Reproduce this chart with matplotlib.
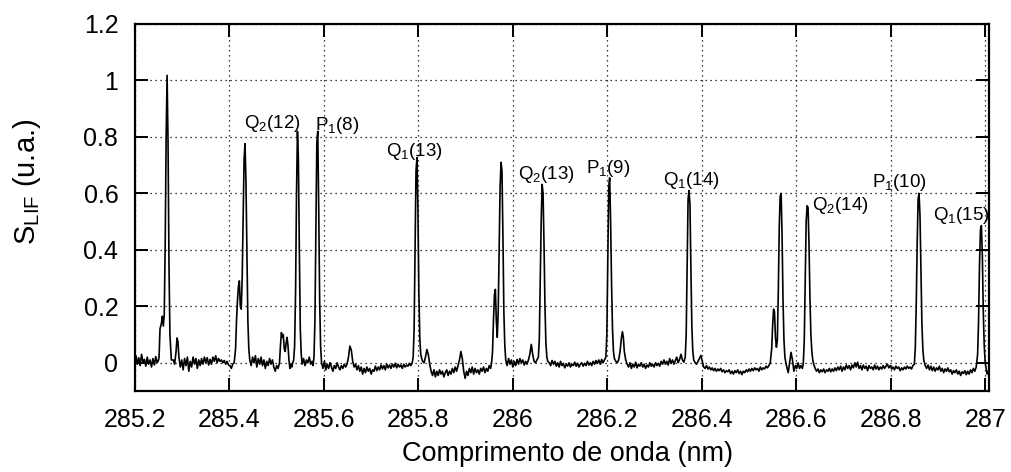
import matplotlib
matplotlib.use("Agg")
import matplotlib.pyplot as plt
import numpy as np

plt.rcParams["font.family"] = ["Liberation Sans", "DejaVu Sans"]
plt.rcParams["mathtext.default"] = "regular"

# LIF excitation spectrum: wavelength (nm) and signal (arbitrary units)
wavelength_nm = [
    285.200, 285.202, 285.205, 285.208, 285.211, 285.214, 285.217, 285.220, 285.223, 285.226,
    285.229, 285.232, 285.235, 285.238, 285.241, 285.244, 285.247, 285.250,
    285.251, 285.253, 285.256, 285.258, 285.260, 285.262, 285.264, 285.266, 285.268, 285.270,
    285.272, 285.274, 285.277, 285.281, 285.284, 285.287, 285.289, 285.291, 285.293,
    285.296, 285.299, 285.302, 285.305, 285.308, 285.311, 285.314, 285.317, 285.320, 285.323,
    285.326, 285.329, 285.332, 285.335, 285.338, 285.341, 285.344, 285.347, 285.350, 285.353,
    285.356, 285.359, 285.362, 285.365, 285.368, 285.371, 285.374, 285.377, 285.380, 285.383,
    285.386, 285.389, 285.392, 285.395, 285.398, 285.401, 285.404, 285.407, 285.410,
    285.413, 285.415, 285.417, 285.419, 285.421, 285.423, 285.425, 285.427, 285.429, 285.431,
    285.433, 285.435, 285.437, 285.439, 285.441, 285.443,
    285.446, 285.449, 285.452, 285.455, 285.458, 285.461, 285.464, 285.467, 285.470, 285.473,
    285.476, 285.479, 285.482, 285.485, 285.488, 285.491, 285.494, 285.497, 285.500, 285.503,
    285.506, 285.508, 285.510, 285.512, 285.514, 285.516, 285.518, 285.520, 285.522, 285.524,
    285.526, 285.528, 285.530, 285.532, 285.534,
    285.536, 285.538, 285.540, 285.542, 285.544, 285.546, 285.548, 285.550, 285.552, 285.554,
    285.557, 285.560, 285.563, 285.566, 285.569, 285.572, 285.575, 285.577,
    285.579, 285.581, 285.583, 285.585, 285.587, 285.589, 285.591, 285.593, 285.595,
    285.598, 285.601, 285.604, 285.607, 285.610, 285.613, 285.616, 285.619, 285.622, 285.625,
    285.628, 285.631, 285.634, 285.637, 285.640, 285.643, 285.646, 285.649, 285.652, 285.655,
    285.658, 285.661, 285.664, 285.667, 285.670, 285.673, 285.676, 285.679, 285.682, 285.685,
    285.688, 285.691, 285.694, 285.697, 285.700, 285.703, 285.706, 285.709, 285.712, 285.715,
    285.718, 285.721, 285.724, 285.727, 285.730, 285.733, 285.736, 285.739, 285.742, 285.745,
    285.748, 285.751, 285.754, 285.757, 285.760, 285.763, 285.766, 285.769, 285.772, 285.775,
    285.778, 285.781, 285.784, 285.787,
    285.789, 285.791, 285.793, 285.795, 285.797, 285.799, 285.801, 285.803, 285.805, 285.807,
    285.809, 285.812, 285.815, 285.818, 285.821, 285.824, 285.827, 285.830, 285.833, 285.836,
    285.839, 285.842, 285.845, 285.848, 285.851, 285.854, 285.857, 285.860, 285.863, 285.866,
    285.869, 285.872, 285.875, 285.878, 285.881, 285.884, 285.887, 285.890, 285.893, 285.896,
    285.899, 285.902, 285.905, 285.908, 285.911, 285.914, 285.917, 285.920, 285.923, 285.926,
    285.929, 285.932, 285.935, 285.938, 285.941, 285.944, 285.947, 285.950, 285.953, 285.955,
    285.957, 285.959, 285.961, 285.963, 285.965, 285.967, 285.969, 285.971, 285.973, 285.975,
    285.977, 285.979, 285.981, 285.983, 285.985,
    285.988, 285.991, 285.994, 285.997, 286.000, 286.003, 286.006, 286.009, 286.012, 286.015,
    286.018, 286.021, 286.024, 286.027, 286.030, 286.033, 286.036, 286.039, 286.042, 286.045,
    286.048, 286.051, 286.054,
    286.056, 286.058, 286.060, 286.062, 286.064, 286.066, 286.068, 286.070, 286.072, 286.074,
    286.077, 286.080, 286.083, 286.086, 286.089, 286.092, 286.095, 286.098, 286.101, 286.104,
    286.107, 286.110, 286.113, 286.116, 286.119, 286.122, 286.125, 286.128, 286.131, 286.134,
    286.137, 286.140, 286.143, 286.146, 286.149, 286.152, 286.155, 286.158, 286.161, 286.164,
    286.167, 286.170, 286.173, 286.176, 286.179, 286.182, 286.185, 286.188, 286.191, 286.194,
    286.197,
    286.199, 286.201, 286.203, 286.205, 286.207, 286.209, 286.211, 286.213, 286.215, 286.218,
    286.221, 286.224, 286.227, 286.230, 286.232, 286.234, 286.236, 286.239, 286.242,
    286.245, 286.248, 286.251, 286.254, 286.257, 286.260, 286.263, 286.266, 286.269, 286.272,
    286.275, 286.278, 286.281, 286.284, 286.287, 286.290, 286.293, 286.296, 286.299, 286.302,
    286.305, 286.308, 286.311, 286.314, 286.317, 286.320, 286.323, 286.326, 286.329, 286.332,
    286.335, 286.338, 286.341, 286.344, 286.347, 286.350, 286.353, 286.356, 286.359, 286.362,
    286.365,
    286.367, 286.369, 286.371, 286.373, 286.375, 286.377, 286.379, 286.381, 286.383, 286.386,
    286.389, 286.392, 286.395, 286.398, 286.401, 286.404, 286.407, 286.410,
    286.413, 286.416, 286.419, 286.422, 286.425, 286.428, 286.431, 286.434, 286.437, 286.440,
    286.443, 286.446, 286.449, 286.452, 286.455, 286.458, 286.461, 286.464, 286.467, 286.470,
    286.473, 286.476, 286.479, 286.482, 286.485, 286.488, 286.491, 286.494, 286.497, 286.500,
    286.503, 286.506, 286.509, 286.512, 286.515, 286.518, 286.521, 286.524, 286.527, 286.530,
    286.533, 286.536, 286.539, 286.542, 286.545,
    286.548, 286.550, 286.552, 286.554, 286.556, 286.558, 286.560, 286.562, 286.564, 286.566,
    286.568, 286.570, 286.572, 286.574, 286.576, 286.578, 286.580, 286.583, 286.586, 286.589,
    286.592, 286.595, 286.598, 286.601, 286.604, 286.607, 286.610, 286.613, 286.615,
    286.617, 286.619, 286.621, 286.623, 286.625, 286.627, 286.629, 286.631, 286.633, 286.635,
    286.637,
    286.640, 286.643, 286.646, 286.649, 286.652, 286.655, 286.658, 286.661, 286.664, 286.667,
    286.670, 286.673, 286.676, 286.679, 286.682, 286.685, 286.688, 286.691, 286.694, 286.697,
    286.700, 286.703, 286.706, 286.709, 286.712, 286.715, 286.718, 286.721, 286.724, 286.727,
    286.730, 286.733, 286.736, 286.739, 286.742, 286.745, 286.748, 286.751, 286.754, 286.757,
    286.760, 286.763, 286.766, 286.769, 286.772, 286.775, 286.778, 286.781, 286.784, 286.787,
    286.790, 286.793, 286.796, 286.799, 286.802, 286.805, 286.808, 286.811, 286.814, 286.817,
    286.820, 286.823, 286.826, 286.829, 286.832, 286.835, 286.838, 286.841, 286.844, 286.847,
    286.850,
    286.852, 286.854, 286.856, 286.858, 286.860, 286.862, 286.864, 286.866, 286.868, 286.870,
    286.873,
    286.876, 286.879, 286.882, 286.885, 286.888, 286.891, 286.894, 286.897, 286.900, 286.903,
    286.906, 286.909, 286.912, 286.915, 286.918, 286.921, 286.924, 286.927, 286.930, 286.933,
    286.936, 286.939, 286.942, 286.945, 286.948, 286.951, 286.954, 286.957, 286.960, 286.963,
    286.966, 286.969, 286.972, 286.975, 286.978, 286.981,
    286.984, 286.986, 286.988, 286.990, 286.992, 286.994, 286.996, 286.998, 287.000, 287.002,
    287.004, 287.006, 287.008,
]

s_lif = [
    0.000, 0.025, -0.005, 0.018, -0.010, 0.030, 0.002, 0.012, -0.012, 0.020,
    -0.005, 0.010, -0.015, 0.015, -0.008, 0.022, 0.000, 0.010,
    0.020, 0.120, 0.140, 0.165, 0.130, 0.170, 0.420, 0.800, 1.018, 0.780,
    0.350, 0.100, 0.010, 0.010, -0.005, 0.040, 0.088, 0.075, 0.020,
    -0.015, 0.010, -0.025, 0.015, -0.010, 0.020, -0.030, 0.005, -0.015, 0.020,
    -0.005, 0.015, -0.020, 0.010, -0.010, 0.015, -0.005, 0.020, 0.000, 0.018,
    -0.008, 0.012, -0.005, 0.020, 0.005, 0.025, 0.000, 0.015, 0.005, 0.010,
    0.000, 0.008, -0.005, 0.005, -0.008, -0.010, -0.020, -0.005, 0.000,
    0.050, 0.150, 0.220, 0.270, 0.290, 0.200, 0.190, 0.300, 0.520, 0.720,
    0.776, 0.640, 0.380, 0.150, 0.050, 0.010,
    -0.010, 0.020, 0.000, 0.025, -0.015, 0.015, -0.005, 0.020, -0.010, 0.010,
    -0.020, 0.005, -0.010, 0.015, -0.005, 0.010, -0.015, -0.030, -0.010, -0.020,
    0.000, 0.060, 0.107, 0.090, 0.100, 0.050, 0.040, 0.070, 0.090, 0.060,
    0.010, -0.020, -0.005, -0.015, 0.000,
    0.010, 0.060, 0.250, 0.600, 0.820, 0.720, 0.400, 0.120, 0.030, -0.005,
    0.015, -0.010, 0.010, 0.000, 0.020, -0.005, 0.005, -0.010,
    0.020, 0.150, 0.450, 0.780, 0.820, 0.550, 0.220, 0.060, 0.000,
    -0.020, 0.005, -0.025, -0.005, -0.020, 0.000, -0.015, -0.030, -0.010, -0.020,
    0.000, -0.015, -0.025, -0.010, -0.020, -0.005, -0.015, -0.005, 0.020, 0.059,
    0.045, 0.005, -0.015, -0.005, -0.025, -0.010, -0.030, -0.015, -0.040, -0.020,
    -0.035, -0.015, -0.030, -0.020, -0.040, -0.025, -0.030, -0.012, -0.028, -0.015,
    -0.025, -0.008, -0.022, -0.010, -0.025, -0.005, -0.018, -0.008, -0.020, -0.005,
    -0.015, -0.002, -0.018, -0.005, -0.015, -0.008, -0.020, -0.005, -0.015, -0.008,
    -0.012, -0.002, -0.010, 0.000,
    0.020, 0.120, 0.400, 0.680, 0.727, 0.550, 0.250, 0.090, 0.030, 0.015,
    0.005, 0.000, 0.020, 0.047, 0.030, -0.005, -0.030, -0.045, -0.025, -0.050,
    -0.030, -0.045, -0.025, -0.040, -0.030, -0.050, -0.035, -0.025, -0.045, -0.030,
    -0.040, -0.020, -0.035, -0.015, -0.030, -0.010, 0.010, 0.040, 0.015, -0.030,
    -0.055, -0.030, -0.045, -0.020, -0.035, -0.015, -0.040, -0.020, -0.035, -0.025,
    -0.040, -0.020, -0.030, -0.015, -0.035, -0.020, -0.030, -0.010, -0.020, 0.000,
    0.040, 0.150, 0.240, 0.260, 0.150, 0.090, 0.180, 0.400, 0.620, 0.710,
    0.680, 0.450, 0.180, 0.060, 0.010,
    -0.010, 0.015, -0.005, 0.010, -0.015, 0.005, -0.010, 0.012, -0.005, 0.015,
    0.000, 0.010, -0.008, 0.005, -0.005, 0.010, 0.030, 0.065, 0.030, 0.005,
    0.000, 0.010, 0.020,
    0.080, 0.280, 0.500, 0.632, 0.600, 0.420, 0.200, 0.070, 0.020, 0.005,
    0.000, -0.010, 0.008, -0.005, 0.005, -0.012, 0.000, -0.015, 0.005, -0.010,
    -0.002, -0.018, -0.005, -0.012, 0.000, -0.015, -0.005, -0.010, 0.002, -0.012,
    -0.002, -0.015, -0.005, 0.000, -0.012, -0.002, -0.010, 0.005, -0.008, 0.000,
    -0.010, 0.005, -0.005, 0.008, -0.002, 0.010, -0.005, 0.012, 0.000, 0.010,
    0.020,
    0.100, 0.350, 0.620, 0.655, 0.500, 0.280, 0.120, 0.040, 0.015, 0.005,
    0.000, 0.010, 0.040, 0.090, 0.110, 0.090, 0.040, 0.010, -0.005,
    -0.015, 0.000, -0.020, -0.005, -0.015, 0.002, -0.018, -0.005, -0.012, 0.000,
    -0.015, -0.005, -0.020, -0.008, -0.015, 0.000, -0.012, -0.005, -0.015, 0.000,
    -0.010, -0.002, -0.012, 0.005, -0.005, 0.010, -0.005, 0.005, -0.008, 0.015,
    -0.002, 0.010, -0.005, 0.008, 0.020, 0.000, 0.012, 0.030, 0.010, 0.002,
    0.020,
    0.100, 0.350, 0.580, 0.610, 0.560, 0.330, 0.130, 0.040, 0.010, 0.000,
    -0.005, 0.005, 0.015, 0.026, 0.005, -0.015, -0.020, -0.010,
    -0.022, -0.015, -0.025, -0.018, -0.028, -0.020, -0.030, -0.022, -0.028, -0.020,
    -0.032, -0.025, -0.035, -0.028, -0.032, -0.025, -0.038, -0.030, -0.040, -0.028,
    -0.035, -0.025, -0.038, -0.030, -0.042, -0.030, -0.035, -0.025, -0.032, -0.022,
    -0.030, -0.020, -0.028, -0.018, -0.025, -0.020, -0.030, -0.015, -0.025, -0.018,
    -0.022, -0.012, -0.018, -0.010, 0.000,
    0.050, 0.130, 0.190, 0.180, 0.090, 0.055, 0.080, 0.250, 0.480, 0.590,
    0.600, 0.450, 0.220, 0.080, 0.020, 0.000, -0.015, -0.035, 0.000, 0.037,
    0.010, -0.030, -0.010, -0.020, 0.000, -0.020, -0.010, -0.020, 0.000,
    0.080, 0.300, 0.500, 0.556, 0.550, 0.420, 0.230, 0.100, 0.040, 0.010,
    -0.005,
    -0.020, -0.030, -0.022, -0.035, -0.025, -0.032, -0.022, -0.035, -0.025, -0.030,
    -0.020, -0.032, -0.022, -0.030, -0.018, -0.028, -0.015, -0.025, -0.012, -0.030,
    -0.015, -0.025, -0.008, -0.020, -0.010, -0.025, -0.008, -0.018, 0.000, -0.015,
    0.002, -0.020, -0.010, -0.025, -0.008, -0.020, -0.012, -0.028, -0.010, -0.020,
    -0.015, -0.025, -0.008, -0.022, -0.012, -0.025, -0.015, -0.022, -0.010, -0.020,
    -0.012, -0.005, -0.018, -0.010, -0.022, -0.015, -0.025, -0.012, -0.020, -0.015,
    -0.028, -0.018, -0.025, -0.015, -0.022, -0.012, -0.020, -0.015, -0.022, -0.010,
    -0.005,
    0.050, 0.200, 0.420, 0.580, 0.600, 0.520, 0.320, 0.140, 0.050, 0.010,
    -0.010,
    -0.020, -0.008, -0.025, -0.012, -0.028, -0.015, -0.030, -0.018, -0.025, -0.012,
    -0.030, -0.020, -0.035, -0.022, -0.030, -0.018, -0.032, -0.025, -0.040, -0.028,
    -0.035, -0.025, -0.040, -0.030, -0.045, -0.032, -0.038, -0.028, -0.042, -0.030,
    -0.040, -0.025, -0.035, -0.020, -0.030, -0.015,
    0.030, 0.150, 0.350, 0.470, 0.486, 0.380, 0.180, 0.060, 0.000, -0.020,
    -0.040, -0.030, -0.045,
]

# Line assignments of the OH A-X (1,0) band
line_labels = ["Q$_2$(12)", "P$_1$(8)", "Q$_1$(13)", "Q$_2$(13)", "P$_1$(9)",
               "Q$_1$(14)", "Q$_2$(14)", "P$_1$(10)", "Q$_1$(15)"]

x_ticks = [285.2, 285.4, 285.6, 285.8, 286.0, 286.2, 286.4, 286.6, 286.8, 287.0]
x_tick_labels = ["285.2", "285.4", "285.6", "285.8", "286", "286.2", "286.4",
                 "286.6", "286.8", "287"]
y_ticks = [0, 0.2, 0.4, 0.6, 0.8, 1.0, 1.2]
y_tick_labels = ["0", "0.2", "0.4", "0.6", "0.8", "1", "1.2"]

# label anchors (left, baseline) in data coordinates
label_anchor = [(285.430, 0.831), (285.582, 0.825), (285.731, 0.731),
                (286.010, 0.652), (286.154, 0.672), (286.318, 0.630),
                (286.633, 0.542), (286.761, 0.621), (286.890, 0.507)]

fig = plt.figure(figsize=(10.11, 4.72), dpi=100)
ax = fig.add_axes([0.1335, 0.1716, 0.8447, 0.7776])

ax.plot(np.array(wavelength_nm), np.array(s_lif), color="black", lw=1.2)

ax.set_xlim(285.2, 287.008)
ax.set_ylim(-0.1, 1.2)
ax.set_xticks(x_ticks)
ax.set_xticklabels(x_tick_labels)
ax.set_yticks(y_ticks)
ax.set_yticklabels(y_tick_labels)

ax.grid(True, color="black", lw=0.9, linestyle=(0, (1, 3)))
ax.tick_params(direction="in", length=9.5, width=1.4, top=True, right=True,
               labelsize=18, colors="black")
ax.tick_params(axis="x", pad=12)
ax.tick_params(axis="y", pad=12)
for sp in ax.spines.values():
    sp.set_linewidth(1.6)

for txt, (lx, ly) in zip(line_labels, label_anchor):
    ax.text(lx, ly, txt, fontsize=13.5, ha="left", va="baseline")

ax.set_xlabel("Comprimento de onda (nm)", fontsize=19.5)
ax.xaxis.set_label_coords(0.506, -0.135)
fig.text(0.027, 0.615, "S$_{LIF}$ (u.a.)", fontsize=21, rotation=90,
         ha="center", va="center")

fig.savefig("out.png", dpi=100)
